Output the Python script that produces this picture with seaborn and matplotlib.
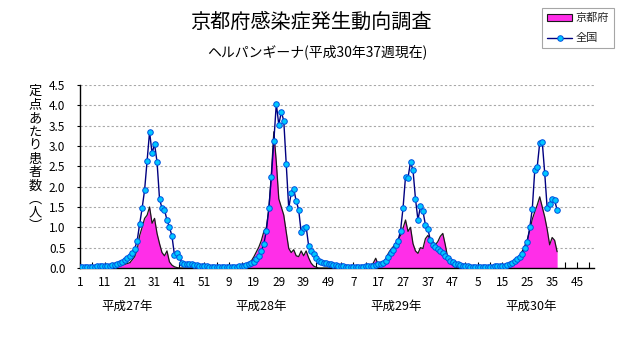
import numpy as np
import matplotlib
matplotlib.use("Agg")
import matplotlib.pyplot as plt
import seaborn as sns
from matplotlib.patches import Patch
from matplotlib.lines import Line2D

# ---------------- data ----------------
year_labels = ["平成27年", "平成28年", "平成29年", "平成30年"]
axis_weeks_per_year = [52, 52, 52, 52]

national_h27 = [0.03, 0.03, 0.03, 0.03, 0.03, 0.03, 0.03, 0.04, 0.04, 0.04,
                0.05, 0.05, 0.06, 0.07, 0.08, 0.10, 0.12, 0.14, 0.20, 0.25,
                0.30, 0.38, 0.47, 0.67, 1.08, 1.47, 1.92, 2.64, 3.35, 2.82,
                3.05, 2.61, 1.70, 1.47, 1.43, 1.18, 1.00, 0.79, 0.32, 0.36,
                0.26, 0.13, 0.11, 0.10, 0.10, 0.09, 0.08, 0.07, 0.06, 0.05,
                0.04, 0.04]
national_h28 = [0.03, 0.03, 0.02, 0.02, 0.02, 0.02, 0.02, 0.02, 0.02, 0.02,
                0.03, 0.03, 0.04, 0.05, 0.06, 0.08, 0.10, 0.12, 0.15, 0.22,
                0.30, 0.42, 0.60, 0.92, 1.47, 2.24, 3.12, 4.04, 3.52, 3.84,
                3.62, 2.56, 1.47, 1.85, 1.94, 1.65, 1.43, 0.88, 0.98, 1.02,
                0.55, 0.42, 0.34, 0.25, 0.18, 0.15, 0.13, 0.12, 0.10, 0.09,
                0.08, 0.07]
national_h29 = [0.05, 0.04, 0.04, 0.03, 0.03, 0.03, 0.03, 0.03, 0.03, 0.03,
                0.03, 0.04, 0.04, 0.05, 0.06, 0.07, 0.09, 0.10, 0.13, 0.18,
                0.26, 0.36, 0.44, 0.57, 0.67, 0.92, 1.48, 2.25, 2.22, 2.61,
                2.41, 1.70, 1.18, 1.52, 1.40, 1.06, 0.95, 0.69, 0.57, 0.51,
                0.47, 0.42, 0.36, 0.30, 0.24, 0.18, 0.14, 0.11, 0.09, 0.07,
                0.06, 0.05]
national_h30 = [0.04, 0.03, 0.03, 0.03, 0.02, 0.02, 0.02, 0.02, 0.03, 0.03,
                0.03, 0.04, 0.04, 0.05, 0.05, 0.06, 0.08, 0.10, 0.13, 0.17,
                0.22, 0.28, 0.35, 0.49, 0.65, 1.00, 1.45, 2.40, 2.49, 3.08,
                3.11, 2.34, 1.47, 1.58, 1.70, 1.66, 1.43]

kyoto_h27 = [0, 0, 0, 0, 0, 0, 0, 0, 0, 0,
             0, 0, 0, 0, 0.02, 0.03, 0.05, 0.07, 0.09, 0.11,
             0.13, 0.20, 0.28, 0.45, 0.80, 1.00, 1.22, 1.30, 1.50, 1.10,
             1.22, 0.85, 0.60, 0.38, 0.30, 0.42, 0.15, 0.07, 0.03, 0.01,
             0, 0, 0, 0, 0, 0, 0, 0, 0, 0,
             0, 0]
kyoto_h28 = [0, 0, 0, 0, 0, 0, 0, 0, 0, 0,
             0, 0, 0.02, 0.03, 0.05, 0.08, 0.12, 0.18, 0.28, 0.40,
             0.52, 0.68, 0.90, 1.00, 1.45, 2.30, 3.35, 2.60, 1.70, 1.50,
             1.30, 0.88, 0.48, 0.38, 0.45, 0.30, 0.28, 0.42, 0.30, 0.42,
             0.25, 0.12, 0.05, 0.02, 0, 0, 0, 0, 0, 0,
             0, 0]
kyoto_h29 = [0, 0, 0, 0, 0, 0, 0, 0, 0, 0,
             0, 0, 0.02, 0.05, 0.12, 0.24, 0.08, 0.10, 0.15, 0.22,
             0.35, 0.45, 0.52, 0.60, 0.72, 0.80, 0.98, 1.18, 0.90, 1.00,
             0.60, 0.42, 0.36, 0.50, 0.48, 0.72, 0.80, 0.70, 0.65, 0.57,
             0.65, 0.78, 0.85, 0.57, 0.24, 0.12, 0.06, 0.02, 0, 0,
             0, 0]
kyoto_h30 = [0, 0, 0, 0, 0, 0, 0, 0, 0, 0,
             0, 0, 0, 0, 0, 0, 0.02, 0.05, 0.08, 0.13,
             0.22, 0.30, 0.42, 0.55, 0.70, 0.93, 1.20, 1.38, 1.55, 1.75,
             1.50, 1.26, 0.95, 0.57, 0.75, 0.68, 0.40]

national = np.array(national_h27 + national_h28 + national_h29 + national_h30)
kyoto = np.array(kyoto_h27 + kyoto_h28 + kyoto_h29 + kyoto_h30)
x_nat = np.arange(len(national))
x_kyo = np.arange(len(kyoto))

week_labels = [str(w) for n in axis_weeks_per_year for w in range(1, n + 1)]
n_axis = len(week_labels)

# ---------------- style ----------------
sns.set_theme(style="white")
plt.rcParams["font.family"] = ["Noto Sans CJK JP", "DejaVu Sans"]

W, H = 631, 347
fig = plt.figure(figsize=(W / 100, H / 100), dpi=100)
fig.patch.set_facecolor("white")
x0, x1 = 80, 80 + (n_axis - 1) * 2.485
y_top, y_bot = 85, 268
ax = fig.add_axes([x0 / W, (H - y_bot) / H, (x1 - x0) / W, (y_bot - y_top) / H])
ax.set_facecolor("white")

# Kyoto area
ax.fill_between(x_kyo, kyoto, 0, color="#ff2ee8", lw=0, zorder=2)
sns.lineplot(x=x_kyo, y=kyoto, ax=ax, color="#1a1a1a", lw=0.9,
             estimator=None, legend=False, zorder=3)
# national line
sns.lineplot(x=x_nat, y=national, ax=ax, color="#000080", lw=1.0,
             marker="o", markersize=4.0, markerfacecolor="#00c8ff",
             markeredgecolor="#0050e0", markeredgewidth=0.7,
             estimator=None, legend=False, zorder=4)

ax.set_xlim(0, n_axis - 1)
ax.set_ylim(0, 4.5)
ax.set_xlabel("")
ax.set_ylabel("")

yt = np.arange(0, 4.51, 0.5)
ax.set_yticks(yt)
ax.set_yticklabels([f"{v:.1f}" for v in yt])
major = list(range(0, n_axis, 10))
minor = list(range(5, n_axis, 10))
ax.set_xticks(major)
ax.set_xticklabels([week_labels[i] for i in major])
ax.set_xticks(minor, minor=True)

for lab in ax.get_xticklabels() + ax.get_yticklabels():
    lab.set_fontsize(8.5)
    lab.set_color("black")

ax.tick_params(axis="y", direction="out", length=2.5, width=0.8, pad=8,
               colors="black", left=True)
ax.tick_params(axis="x", which="both", direction="in", length=4, width=0.8,
               pad=6, colors="black", bottom=True)

ax.yaxis.grid(True, color="#a8a8a8", linestyle=(0, (2, 2)), lw=0.8)
ax.xaxis.grid(False)
ax.set_axisbelow(True)
for s in ["top", "right"]:
    ax.spines[s].set_visible(False)
for s in ["left", "bottom"]:
    ax.spines[s].set_color("black")
    ax.spines[s].set_linewidth(1.0)

# titles
fig.text(311 / W, 1 - 22 / H, "京都府感染症発生動向調査", ha="center", va="center",
         fontsize=14.5, color="black")
fig.text(317 / W, 1 - 52 / H, "ヘルパンギーナ(平成30年37週現在)", ha="center",
         va="center", fontsize=10, color="black")

# vertical y label
ylab = "定点あたり患者数︵人︶"
fig.text(35 / W, 1 - 159 / H, "\n".join(ylab), ha="center", va="center",
         fontsize=9.5, linespacing=1.05, color="black")

# year labels
for xc, lab in zip([127.5, 261, 396, 531], year_labels):
    fig.text(xc / W, 1 - 306 / H, lab, ha="center", va="center", fontsize=9,
             color="black")

# legend
handles = [Patch(facecolor="#ff2ee8", edgecolor="#1a1a1a", lw=0.8),
           Line2D([0], [0], color="#000080", lw=1.0, marker="o", markersize=4.0,
                  markerfacecolor="#00c8ff", markeredgecolor="#0050e0",
                  markeredgewidth=0.7)]
leg = fig.legend(handles, ["京都府", "全国"], loc="upper right",
                 bbox_to_anchor=(614 / W, 1 - 8 / H), frameon=True,
                 fancybox=False, fontsize=8, handlelength=2.3,
                 handleheight=0.5, borderpad=0.45, labelspacing=0.9,
                 handletextpad=0.3, borderaxespad=0)
leg.get_frame().set_edgecolor("#909090")
leg.get_frame().set_linewidth(0.8)

fig.savefig("out.png", dpi=100, facecolor="white")
